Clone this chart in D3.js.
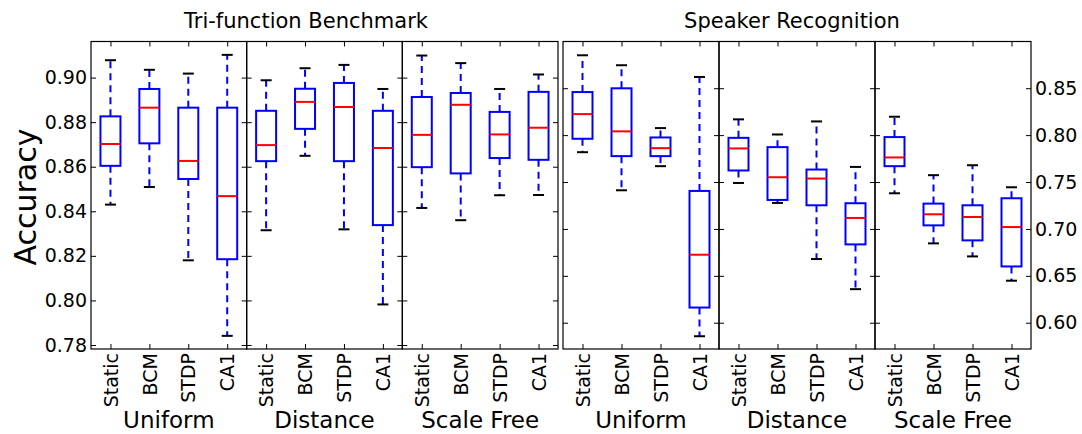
<!DOCTYPE html>
<html>
<head>
<meta charset="utf-8">
<script src="https://cdn.jsdelivr.net/npm/d3@7"></script>
<style>
  body { margin: 0; background: #fff; }
  svg { font-family: "DejaVu Sans", sans-serif; }
</style>
</head>
<body>
<svg id="chart" width="1082" height="434"></svg>
<script>
const methods = ["Static", "BCM", "STDP", "CA1"];
const topologies = ["Uniform", "Distance", "Scale Free"];

// each row: [lower whisker, q1, median, q3, upper whisker]
const triUniform = [
  [0.8430, 0.8604, 0.8702, 0.8826, 0.9078],
  [0.8509, 0.8705, 0.8865, 0.8949, 0.9035],
  [0.8180, 0.8545, 0.8626, 0.8865, 0.9018],
  [0.7841, 0.8185, 0.8468, 0.8865, 0.9102]
];
const triDistance = [
  [0.8315, 0.8625, 0.8697, 0.8851, 0.8988],
  [0.8649, 0.8770, 0.8891, 0.8950, 0.9042],
  [0.8319, 0.8625, 0.8868, 0.8976, 0.9057],
  [0.7982, 0.8338, 0.8684, 0.8851, 0.8949]
];
const triScaleFree = [
  [0.8415, 0.8598, 0.8743, 0.8913, 0.9099],
  [0.8360, 0.8570, 0.8878, 0.8931, 0.9065],
  [0.8472, 0.8639, 0.8745, 0.8846, 0.8949],
  [0.8473, 0.8631, 0.8775, 0.8936, 0.9014]
];
const speakerUniform = [
  [0.7818, 0.7961, 0.8224, 0.8459, 0.8851],
  [0.7412, 0.7776, 0.8040, 0.8499, 0.8745],
  [0.7669, 0.7776, 0.7861, 0.7975, 0.8075],
  [0.5856, 0.6162, 0.6725, 0.7405, 0.8620]
];
const speakerDistance = [
  [0.7490, 0.7623, 0.7858, 0.7971, 0.8168],
  [0.7277, 0.7309, 0.7551, 0.7872, 0.8007],
  [0.6679, 0.7252, 0.7537, 0.7633, 0.8146],
  [0.6358, 0.6835, 0.7117, 0.7274, 0.7661]
];
const speakerScaleFree = [
  [0.7380, 0.7669, 0.7762, 0.7979, 0.8196],
  [0.6846, 0.7038, 0.7156, 0.7270, 0.7573],
  [0.6707, 0.6878, 0.7127, 0.7252, 0.7679],
  [0.6448, 0.6600, 0.7020, 0.7327, 0.7444]
];

const triTicks = [0.78, 0.80, 0.82, 0.84, 0.86, 0.88, 0.90];
const speakerTicks = [0.60, 0.65, 0.70, 0.75, 0.80, 0.85];

const svg = d3.select("#chart");
const plotTop = 41.5, plotBottom = 349;
const boxW = 20, capW = 11, tickLen = 5;

drawGroup({
  sets: [triUniform, triDistance, triScaleFree],
  range: [91, 558],
  domain: [0.7782, 0.9162],
  ticks: triTicks,
  labelSide: "left",
  title: "Tri-function Benchmark",
  titleX: 306
});

drawGroup({
  sets: [speakerUniform, speakerDistance, speakerScaleFree],
  range: [563, 1031],
  domain: [0.572, 0.8998],
  ticks: speakerTicks,
  labelSide: "right",
  title: "Speaker Recognition",
  titleX: 792
});

// y axis label
svg.append("text")
  .attr("transform", "translate(36,197) rotate(-90)")
  .attr("text-anchor", "middle")
  .attr("font-size", "30px")
  .text("Accuracy");

function drawGroup(opt) {
  const panel = d3.scaleBand().domain(topologies).range(opt.range);
  const y = d3.scaleLinear().domain(opt.domain).range([plotBottom, plotTop]);
  const x = d3.scalePoint().domain(methods).range([0, panel.bandwidth()]).padding(0.5);

  svg.append("text")
    .attr("x", opt.titleX)
    .attr("y", 28)
    .attr("text-anchor", "middle")
    .attr("font-size", "21px")
    .text(opt.title);

  opt.sets.forEach((stats, pi) => {
    const topo = topologies[pi];
    const x0 = panel(topo);
    const w = panel.bandwidth();
    const g = svg.append("g").attr("transform", `translate(${x0},0)`);

    // inward ticks on the left and right edges
    const left = g.append("g")
      .call(d3.axisLeft(y).tickValues(opt.ticks).tickSizeInner(-tickLen).tickSizeOuter(0).tickPadding(4)
        .tickFormat(opt.labelSide === "left" && pi === 0 ? d3.format(".2f") : ""));
    const right = g.append("g").attr("transform", `translate(${w},0)`)
      .call(d3.axisRight(y).tickValues(opt.ticks).tickSizeInner(-tickLen).tickSizeOuter(0).tickPadding(4)
        .tickFormat(opt.labelSide === "right" && pi === 2 ? d3.format(".2f") : ""));

    // category ticks on bottom and top
    const bot = g.append("g").attr("transform", `translate(0,${plotBottom})`)
      .call(d3.axisBottom(x).tickSizeInner(-tickLen).tickSizeOuter(0));
    bot.selectAll("text")
      .attr("x", -4).attr("y", 0).attr("dy", "0.35em")
      .attr("transform", "rotate(-90)")
      .attr("text-anchor", "end");
    g.append("g").attr("transform", `translate(0,${plotTop})`)
      .call(d3.axisTop(x).tickSizeInner(-tickLen).tickSizeOuter(0).tickFormat(""));

    [left, right, bot].forEach(a => a.attr("font-size", "19px").attr("font-family", null));
    g.selectAll(".domain").remove();
    g.selectAll(".tick line").attr("stroke", "#000");
    g.selectAll(".tick text").attr("fill", "#000");

    // spine
    g.append("rect")
      .attr("x", 0).attr("y", plotTop)
      .attr("width", w).attr("height", plotBottom - plotTop)
      .attr("fill", "none").attr("stroke", "#000").attr("stroke-width", 1.2);

    // boxes
    const box = g.selectAll(".box").data(stats).join("g")
      .attr("class", "box")
      .attr("transform", (d, i) => `translate(${x(methods[i])},0)`);

    box.append("line")
      .attr("y1", d => y(d[3])).attr("y2", d => y(d[4]))
      .attr("stroke", "#0000ff").attr("stroke-width", 2).attr("stroke-dasharray", "7,5");
    box.append("line")
      .attr("y1", d => y(d[1])).attr("y2", d => y(d[0]))
      .attr("stroke", "#0000ff").attr("stroke-width", 2).attr("stroke-dasharray", "7,5");
    box.append("rect")
      .attr("x", -boxW / 2).attr("width", boxW)
      .attr("y", d => y(d[3])).attr("height", d => y(d[1]) - y(d[3]))
      .attr("fill", "none").attr("stroke", "#0000ff").attr("stroke-width", 2);
    box.append("line")
      .attr("x1", -boxW / 2).attr("x2", boxW / 2)
      .attr("y1", d => y(d[2])).attr("y2", d => y(d[2]))
      .attr("stroke", "#ff0000").attr("stroke-width", 2);
    [0, 4].forEach(k => {
      box.append("line")
        .attr("x1", -capW / 2).attr("x2", capW / 2)
        .attr("y1", d => y(d[k])).attr("y2", d => y(d[k]))
        .attr("stroke", "#000").attr("stroke-width", 2);
    });

    // topology label
    svg.append("text")
      .attr("x", x0 + w / 2)
      .attr("y", 428)
      .attr("text-anchor", "middle")
      .attr("font-size", "23px")
      .text(topo);
  });
}
</script>
</body>
</html>
